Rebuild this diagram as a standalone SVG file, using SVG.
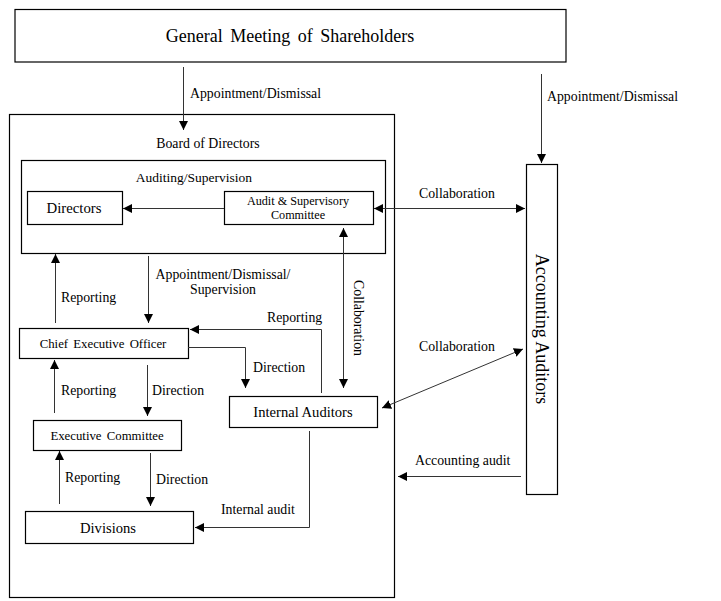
<svg xmlns="http://www.w3.org/2000/svg" width="721" height="601" viewBox="0 0 721 601">
<style>
  .box{fill:#fff;stroke:#000;stroke-width:1.2}
  .t{font-family:'Liberation Serif','DejaVu Serif',serif;fill:#000}
  .c{fill:none;stroke:#333;stroke-width:1}
  .lb{font-size:13.8px}
  .l14{font-size:14.6px}
  .l12{font-size:12.8px}
</style>
<defs>
  <marker id="ah" viewBox="0 0 10 10" refX="10" refY="5" markerWidth="9" markerHeight="9" markerUnits="userSpaceOnUse" orient="auto-start-reverse">
    <path d="M0,0 L10,5 L0,10 z" fill="#000"/>
  </marker>
</defs>
<rect width="721" height="601" fill="#fff"/>

<g id="gms">
  <rect class="box" x="15" y="9.5" width="551" height="52.5"/>
  <text class="t" x="290" y="42" font-size="18" text-anchor="middle" word-spacing="3">General Meeting of Shareholders</text>
</g>
<g id="board">
  <rect class="box" x="9.5" y="114.5" width="385" height="483"/>
  <text class="t lb" x="208" y="148" text-anchor="middle">Board of Directors</text>
</g>
<g id="inner">
  <rect class="box" x="21.5" y="160.5" width="364" height="93"/>
  <text class="t" x="194" y="182" font-size="13.5" text-anchor="middle">Auditing/Supervision</text>
</g>
<g id="directors">
  <rect class="box" x="27.5" y="191.5" width="95" height="33"/>
  <text class="t" x="74" y="213" font-size="14.8" text-anchor="middle">Directors</text>
</g>
<g id="asc">
  <rect class="box" x="224.5" y="191.5" width="149" height="33"/>
  <text class="t" x="298" y="205" font-size="12.2" text-anchor="middle">Audit &amp; Supervisory</text>
  <text class="t" x="298" y="218.5" font-size="12.2" text-anchor="middle">Committee</text>
</g>
<g id="auditors">
  <rect class="box" x="526.5" y="164.5" width="31" height="330"/>
  <text class="t" x="0" y="0" font-size="18" text-anchor="middle" transform="translate(536,329) rotate(90)">Accounting Auditors</text>
</g>
<g id="ceo">
  <rect class="box" x="19.5" y="328.5" width="169" height="30"/>
  <text class="t l12" x="103" y="348" text-anchor="middle" word-spacing="2">Chief Executive Officer</text>
</g>
<g id="internal">
  <rect class="box" x="229.5" y="396.5" width="148" height="31"/>
  <text class="t l14" x="303" y="417" text-anchor="middle">Internal Auditors</text>
</g>
<g id="exec">
  <rect class="box" x="33.5" y="420.5" width="148" height="30"/>
  <text class="t l12" x="107" y="440" text-anchor="middle" word-spacing="2">Executive Committee</text>
</g>
<g id="divisions">
  <rect class="box" x="25.5" y="511.5" width="168" height="32"/>
  <text class="t l14" x="108" y="533" text-anchor="middle">Divisions</text>
</g>

<g id="connectors">
  <line class="c" x1="183.5" y1="67" x2="183.5" y2="130" marker-end="url(#ah)"/>
  <line class="c" x1="541.5" y1="74" x2="541.5" y2="163" marker-end="url(#ah)"/>
  <line class="c" x1="224" y1="208.5" x2="123" y2="208.5" marker-end="url(#ah)"/>
  <line class="c" x1="374" y1="208.5" x2="525" y2="208.5" marker-start="url(#ah)" marker-end="url(#ah)"/>
  <line class="c" x1="343.5" y1="228" x2="343.5" y2="388" marker-start="url(#ah)" marker-end="url(#ah)"/>
  <line class="c" x1="55.5" y1="323" x2="55.5" y2="254" marker-end="url(#ah)"/>
  <line class="c" x1="148.5" y1="256" x2="148.5" y2="323" marker-end="url(#ah)"/>
  <polyline class="c" points="321.5,393 321.5,329.5 190,329.5" marker-end="url(#ah)"/>
  <polyline class="c" points="188,347.5 245.5,347.5 245.5,388" marker-end="url(#ah)"/>
  <line class="c" x1="523" y1="349" x2="382" y2="408" marker-start="url(#ah)" marker-end="url(#ah)"/>
  <line class="c" x1="54.5" y1="413" x2="54.5" y2="360" marker-end="url(#ah)"/>
  <line class="c" x1="147.5" y1="365" x2="147.5" y2="416" marker-end="url(#ah)"/>
  <line class="c" x1="59.5" y1="504" x2="59.5" y2="451" marker-end="url(#ah)"/>
  <line class="c" x1="150.5" y1="453" x2="150.5" y2="506" marker-end="url(#ah)"/>
  <polyline class="c" points="309.5,431 309.5,527.5 195,527.5" marker-end="url(#ah)"/>
  <line class="c" x1="521" y1="476.5" x2="398" y2="476.5" marker-end="url(#ah)"/>

  <text class="t lb" x="190" y="98">Appointment/Dismissal</text>
  <text class="t lb" x="547" y="101">Appointment/Dismissal</text>
  <text class="t lb" x="419" y="198">Collaboration</text>
  <text class="t lb" x="0" y="0" text-anchor="middle" transform="translate(354,318) rotate(90)">Collaboration</text>
  <text class="t lb" x="61" y="302">Reporting</text>
  <text class="t lb" x="223" y="279" text-anchor="middle">Appointment/Dismissal/</text>
  <text class="t lb" x="223" y="294" text-anchor="middle">Supervision</text>
  <text class="t lb" x="267" y="322">Reporting</text>
  <text class="t lb" x="253" y="372">Direction</text>
  <text class="t lb" x="419" y="351">Collaboration</text>
  <text class="t lb" x="61" y="395">Reporting</text>
  <text class="t lb" x="152" y="395">Direction</text>
  <text class="t lb" x="65" y="482">Reporting</text>
  <text class="t lb" x="156" y="484">Direction</text>
  <text class="t lb" x="221" y="514">Internal audit</text>
  <text class="t lb" x="415" y="465">Accounting audit</text>
</g>
</svg>
